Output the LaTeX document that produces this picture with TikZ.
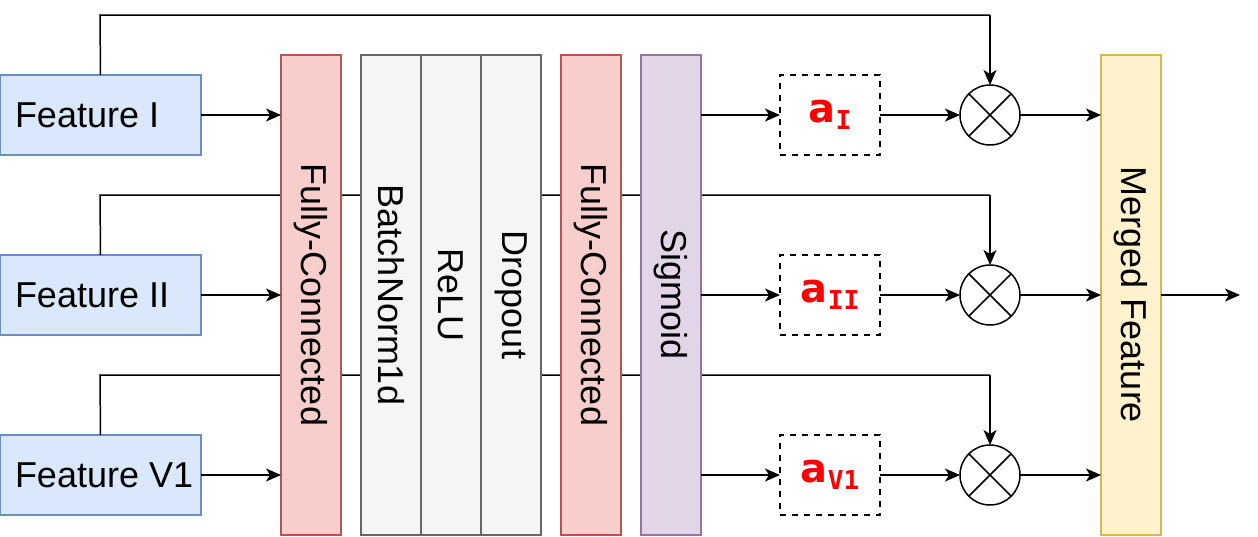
\documentclass[tikz,border=0pt]{standalone}
\usepackage{fontspec}
\setmainfont{Liberation Sans}
\newfontfamily\alphafont{DejaVu Sans}
\newfontfamily\alphamono{DejaVu Sans Mono}
\usetikzlibrary{arrows.meta}
\definecolor{featfill}{HTML}{DAE8FC}
\definecolor{featdraw}{HTML}{6C8EBF}
\definecolor{fcfill}{HTML}{F8CECC}
\definecolor{fcdraw}{HTML}{B85450}
\definecolor{grayfill}{HTML}{F5F5F5}
\definecolor{graydraw}{HTML}{666666}
\definecolor{sigfill}{HTML}{E1D5E7}
\definecolor{sigdraw}{HTML}{9673A6}
\definecolor{mergefill}{HTML}{FFF2CC}
\definecolor{mergedraw}{HTML}{D6B656}
\definecolor{alphared}{HTML}{FF0000}
\tikzset{
  every node/.style={inner sep=0pt, outer sep=0pt},
  lbl/.style={font=\fontsize{18}{21}\selectfont},
  featbox/.style={draw=featdraw, fill=featfill, line width=0.6pt, minimum width=100.5pt, minimum height=40pt},
  layerbox/.style={line width=0.75pt, minimum width=30pt, minimum height=240pt},
  fcbox/.style={layerbox, draw=fcdraw, fill=fcfill},
  graybox/.style={layerbox, draw=graydraw, fill=grayfill},
  sigbox/.style={layerbox, draw=sigdraw, fill=sigfill},
  mergebox/.style={layerbox, draw=mergedraw, fill=mergefill},
  abox/.style={draw, dashed, line width=0.6pt, minimum width=50pt, minimum height=40pt},
  mult/.style={draw, circle, line width=0.75pt, minimum size=30pt},
  conn/.style={line width=0.75pt},
  arr/.style={conn, -{Stealth[length=7.5pt, width=6.5pt, inset=2pt]}},
  rottext/.style={lbl, rotate=-90}
}
\newcommand{\alab}[1]{{\color{alphared}\alphafont\bfseries\fontsize{20}{22}\selectfont a\raisebox{-3.5pt}{\alphamono\bfseries\fontsize{13}{14}\selectfont #1}}}
\begin{document}
\begin{tikzpicture}[x=0.5pt, y=-0.5pt]
\useasboundingbox (0,0) rectangle (1258,536);
% coordinates for feedthrough lines
\coordinate (t1) at (100,15);
\coordinate (t1b) at (990,15);
\coordinate (t2) at (100,195);
\coordinate (t2b) at (990,195);
\coordinate (t3) at (100,375);
\coordinate (t3b) at (990,375);
% feature boxes
\node[featbox] (f1) at (100.5,115) {};
\node[featbox] (f2) at (100.5,295) {};
\node[featbox] (f3) at (100.5,475) {};
% circles
\node[mult] (m1) at (990,115) {};
\node[mult] (m2) at (990,295) {};
\node[mult] (m3) at (990,475) {};
% bypass lines (behind layer boxes)
\draw[conn] (f1.north) -- (t1) -- (t1b);
\draw[arr] (t1b) -- (m1.north);
\draw[conn] (f2.north) -- (t2) -- (t2b);
\draw[arr] (t2b) -- (m2.north);
\draw[conn] (f3.north) -- (t3) -- (t3b);
\draw[arr] (t3b) -- (m3.north);
% layer boxes
\node[fcbox] (fc1) at (311,295) {};
\node[graybox] (bn) at (391,295) {};
\node[graybox] (relu) at (451,295) {};
\node[graybox] (drop) at (511,295) {};
\node[fcbox] (fc2) at (591,295) {};
\node[sigbox] (sig) at (671,295) {};
\node[mergebox] (mf) at (1131,295) {};
\node[rottext] at (fc1.center) {Fully-Connected};
\node[rottext] at (bn.center) {BatchNorm1d};
\node[rottext] at (relu.center) {ReLU};
\node[rottext] at (drop.center) {Dropout};
\node[rottext] at (fc2.center) {Fully-Connected};
\node[rottext] at (sig.center) {Sigmoid};
\node[rottext] at (mf.center) {Merged Feature};
% feature labels
\node[lbl, anchor=west] at (15,115) {Feature I};
\node[lbl, anchor=west] at (15,295) {Feature II};
\node[lbl, anchor=west] at (15,475) {Feature V1};
% crosses in circles
\foreach \m in {m1,m2,m3}{
  \draw[line width=0.75pt] (\m.45) -- (\m.225);
  \draw[line width=0.75pt] (\m.135) -- (\m.315);
}
% alpha boxes
\node[abox] (a1) at (830,115) {\alab{I}};
\node[abox] (a2) at (830,295) {\alab{II}};
\node[abox] (a3) at (830,475) {\alab{V1}};
% arrows
\draw[arr] (f1.east) -- (fc1.west |- f1.east);
\draw[arr] (f2.east) -- (fc1.west |- f2.east);
\draw[arr] (f3.east) -- (fc1.west |- f3.east);
\draw[arr] (sig.east |- a1.west) -- (a1.west);
\draw[arr] (sig.east |- a2.west) -- (a2.west);
\draw[arr] (sig.east |- a3.west) -- (a3.west);
\draw[arr] (a1.east) -- (m1.west);
\draw[arr] (a2.east) -- (m2.west);
\draw[arr] (a3.east) -- (m3.west);
\draw[arr] (m1.east) -- (mf.west |- m1.east);
\draw[arr] (m2.east) -- (mf.west |- m2.east);
\draw[arr] (m3.east) -- (mf.west |- m3.east);
\coordinate (out) at (1240,295);
\draw[arr] (mf.east) -- (out);
\end{tikzpicture}
\end{document}
